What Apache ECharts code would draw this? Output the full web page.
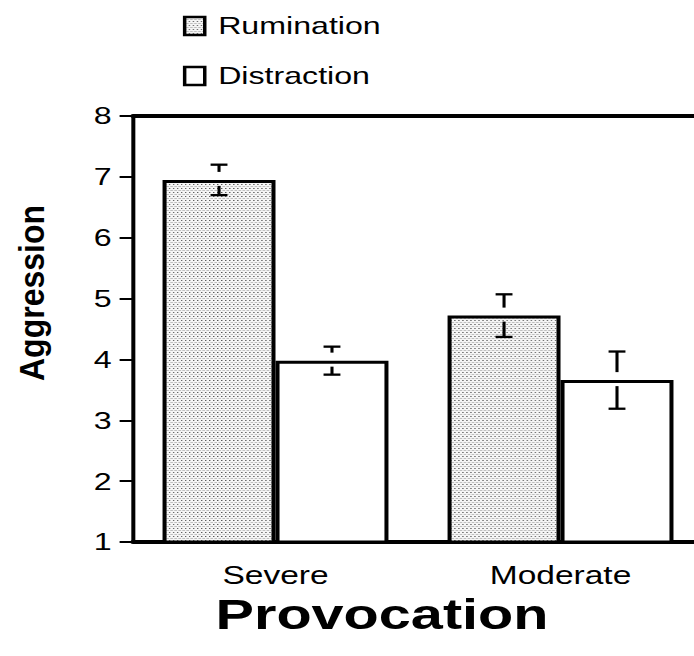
<!DOCTYPE html>
<html>
<head>
<meta charset="utf-8">
<script src="https://cdn.jsdelivr.net/npm/echarts@6/dist/echarts.min.js"></script>
<style>
html,body{margin:0;padding:0;background:#fff;overflow:hidden}
#wrap{width:694px;height:656px;overflow:hidden;position:relative}
#c{width:518px;height:656px;transform:scaleX(1.34);transform-origin:0 0}
</style>
</head>
<body>
<div id="wrap"><div id="c"></div></div>
<script>
var categories = ['Severe', 'Moderate'];
var seriesNames = ['Rumination', 'Distraction'];
var rumination = [6.95, 4.72];
var distraction = [3.98, 3.66];
var ruminationErr = [0.25, 0.35];
var distractionErr = [0.23, 0.47];
var yTicks = [1, 2, 3, 4, 5, 6, 7, 8];
var xTitle = 'Provocation';
var yTitle = 'Aggression';

// the original figure's typography is horizontally stretched; the whole chart
// is laid out in a narrower box and stretched by S via CSS
var S = 1.34;
var FONT = '"Liberation Sans", Arial, Helvetica, sans-serif';
var BAR_W = 84.3;

// dotted fill pattern
var tile = document.createElement('canvas');
tile.width = 3; tile.height = 4;
var tc = tile.getContext('2d');
tc.fillStyle = '#f6f6f6'; tc.fillRect(0, 0, 3, 4);
tc.fillStyle = '#555'; tc.fillRect(0, 0, 1, 1);
tc.fillStyle = '#888'; tc.fillRect(1.5, 2, 1, 1);
var dotted = { image: tile.toDataURL(), repeat: 'repeat' };

var chart = echarts.init(document.getElementById('c'), null, { renderer: 'svg' });

function errSeries(vals, errs, offsetSign) {
  var data = vals.map(function (v, i) { return [i, v, errs[i]]; });
  return {
    type: 'custom',
    silent: true,
    z: 10,
    data: data,
    renderItem: function (params, api) {
      var i = api.value(0), v = api.value(1), e = api.value(2);
      var top = api.coord([i, v]);
      var hi = api.coord([i, v + e]);
      var lo = api.coord([i, v - e]);
      var x = top[0] + offsetSign * BAR_W / 2;
      var cw = 6.3;
      var st = { stroke: '#000', lineWidth: 2.3, fill: null };
      return {
        type: 'group',
        children: [
          { type: 'line', shape: { x1: x, y1: hi[1], x2: x, y2: top[1] - 8 }, style: st },
          { type: 'line', shape: { x1: x - cw, y1: hi[1], x2: x + cw, y2: hi[1] }, style: st },
          { type: 'line', shape: { x1: x, y1: top[1] + 6, x2: x, y2: lo[1] }, style: st },
          { type: 'line', shape: { x1: x - cw, y1: lo[1], x2: x + cw, y2: lo[1] }, style: st }
        ]
      };
    }
  };
}

var option = {
  backgroundColor: '#fff',
  animation: false,
  legend: {
    data: seriesNames,
    orient: 'vertical',
    left: 131.5,
    top: 9,
    icon: 'rect',
    itemWidth: 15,
    itemHeight: 18,
    itemGap: 26,
    itemStyle: { borderColor: '#000', borderWidth: 2.6 },
    textStyle: { fontFamily: FONT, fontSize: 24, color: '#000', padding: [0, 0, 0, 5] }
  },
  grid: {
    left: 99.25, top: 116, width: 425.4, height: 426,
    outerBoundsMode: 'none', containLabel: false
  },
  xAxis: [{
    type: 'category',
    data: categories,
    axisLine: { lineStyle: { color: '#000', width: 4 } },
    axisTick: { alignWithLabel: true, length: 10, lineStyle: { color: '#000', width: 1.6 } },
    axisLabel: { fontFamily: FONT, fontSize: 25, color: '#000', margin: 21 }
  }, {
    type: 'category',
    position: 'top',
    data: categories,
    axisLine: { lineStyle: { color: '#000', width: 4 } },
    axisTick: { show: false },
    axisLabel: { show: false }
  }],
  yAxis: {
    type: 'value',
    min: yTicks[0], max: yTicks[yTicks.length - 1], interval: 1,
    splitLine: { show: false },
    axisLine: { show: true, lineStyle: { color: '#000', width: 3 } },
    axisTick: { show: true, length: 10, lineStyle: { color: '#000', width: 2 } },
    axisLabel: { fontFamily: FONT, fontSize: 24, color: '#000', margin: 16 }
  },
  series: [
    {
      name: seriesNames[0], type: 'bar', data: rumination, barWidth: BAR_W, barGap: '0%',
      itemStyle: { color: dotted, borderColor: '#000', borderWidth: 3 }
    },
    {
      name: seriesNames[1], type: 'bar', data: distraction, barWidth: BAR_W, barGap: '0%',
      itemStyle: { color: '#fff', borderColor: '#000', borderWidth: 3 }
    },
    errSeries(rumination, ruminationErr, -1),
    errSeries(distraction, distractionErr, 1)
  ],
  graphic: [
    {
      type: 'text',
      x: 382 / S, y: 614,
      style: { text: xTitle, font: 'bold 43px ' + FONT, fill: '#000', align: 'center', verticalAlign: 'middle' }
    },
    {
      type: 'text',
      x: 31 / S, y: 293, rotation: Math.PI / 2, scaleY: 1.12 / S,
      style: { text: yTitle, font: 'bold 32px ' + FONT, fill: '#000', align: 'center', verticalAlign: 'middle' }
    }
  ]
};
chart.setOption(option);
</script>
</body>
</html>
